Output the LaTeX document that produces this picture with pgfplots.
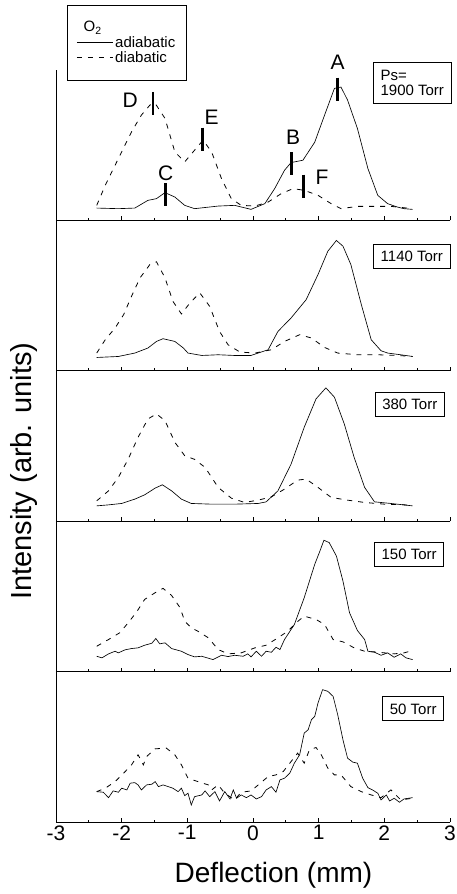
\documentclass[border=0pt]{standalone}
\usepackage{fontspec}
\setmainfont{Liberation Sans}
\usepackage{pgfplots}
\pgfplotsset{compat=1.18}
\pgfplotsset{
  panel/.style={
    width=394pt, height=150.4pt, scale only axis,
    xmin=-3, xmax=3, ymin=0, ymax=150,
    axis x line=bottom, axis y line=left,
    axis line style={-, line width=0.8pt},
    xtick={-3,-2,-1,0,1,2,3}, minor x tick num=1, tick align=inside,
    major tick length=4pt, minor tick length=2.5pt,
    ytick=\empty,
    clip=false,
    every tick/.style={line width=0.7pt, black},
    /pgf/number format/assume math mode=true,
    tick label style={font=\fontsize{21}{24}\selectfont},
    anchor=south west,
  },
  ad/.style={black, line width=0.65pt},
  di/.style={black, line width=0.8pt, dash pattern=on 5pt off 6pt},
}
\tikzset{
  labbase/.style={draw=black, line width=0.8pt, fill=white, inner xsep=7pt},
  lab/.style={labbase, inner ysep=6.5pt, text height=11pt, text depth=0pt},
  pk/.style={font=\fontsize{21}{24}\selectfont},
}
\begin{document}
\begin{tikzpicture}
\path[use as bounding box] (-56pt,70pt) rectangle (400pt,-824pt);
% ---------------- panel 1 ----------------
\begin{axis}[panel, at={(0pt,-150.4pt)}, xticklabels={},
  legend style={at={(axis description cs:0.028,1.433)}, anchor=north west,
    draw=black, line width=0.8pt, inner xsep=9pt, inner ysep=14pt, row sep=-1pt,
    font=\fontsize{15}{17}\selectfont, cells={anchor=west}},
  legend image code/.code={\draw[#1] (0pt,0pt) -- (36pt,0pt);}]
\addlegendimage{empty legend}
\addlegendentry{\hspace*{-42pt}O\textsubscript{2}}
\addplot[ad] coordinates {(-2.38,12.3)(-2.05,11.7)(-1.80,12.3)(-1.60,20)(-1.47,21.7)(-1.34,27.7)(-1.19,23.3)(-1.04,15)(-0.89,11.7)(-0.53,14.3)(-0.28,15)(-0.03,11)(0.18,16.7)(0.33,31.7)(0.48,50)(0.58,57.7)(0.76,60)(0.94,78)(1.09,105)(1.24,131.7)(1.34,133)(1.44,120)(1.59,91.7)(1.75,51.7)(1.90,25)(2.05,16.7)(2.20,13.3)(2.30,11.7)(2.43,11)};
\addlegendentry{adiabatic}
\addplot[di] coordinates {(-2.38,15)(-2.25,35)(-2.05,61.7)(-1.85,88.3)(-1.70,105)(-1.57,115)(-1.49,116.7)(-1.34,101.7)(-1.19,68.3)(-1.04,58.3)(-0.89,70)(-0.76,80)(-0.63,68.3)(-0.48,41.7)(-0.33,21.7)(-0.18,15)(0.03,14.3)(0.23,18.3)(0.43,26.7)(0.61,31.7)(0.78,30)(0.99,25)(1.19,16.7)(1.34,11.7)(1.59,14)(1.85,14)(2.10,14)(2.43,11.7)};
\addlegendentry{diabatic}
\addplot[only marks, mark=|, mark size=11.5pt, mark options={line width=2.5pt}, forget plot] coordinates {(1.29,131)(0.59,56.3)(-1.33,25.7)(-1.52,116.7)(-0.77,81)(0.77,34.3)};
\coordinate (pA) at (axis cs:1.29,158);
\coordinate (pB) at (axis cs:0.61,83.3);
\coordinate (pC) at (axis cs:-1.33,46.7);
\coordinate (pD) at (axis cs:-1.87,120);
\coordinate (pE) at (axis cs:-0.63,103);
\coordinate (pF) at (axis cs:1.05,43.3);
\coordinate (l1) at (axis cs:2.426,137);
\end{axis}
% ---------------- panel 2 ----------------
\begin{axis}[panel, at={(0pt,-300.8pt)}, xticklabels={}]
\addplot[ad] coordinates {(-2.38,13.3)(-2.05,14.3)(-1.80,17.7)(-1.60,22.7)(-1.47,29.3)(-1.37,32)(-1.19,29.3)(-1.06,22.7)(-0.99,17.7)(-0.78,15.3)(-0.53,16)(-0.28,15.3)(-0.03,15.3)(0.23,21)(0.38,39.3)(0.58,52.7)(0.81,71)(0.99,96)(1.14,119.3)(1.27,130)(1.37,124.3)(1.49,106)(1.65,66)(1.80,31)(1.95,20)(2.05,17.7)(2.25,16)(2.43,14.3)};
\addplot[di] coordinates {(-2.38,17.7)(-2.25,31)(-2.10,42.7)(-1.97,56)(-1.85,74.3)(-1.72,92.7)(-1.57,106)(-1.47,108.7)(-1.34,92.7)(-1.22,69.3)(-1.09,56.7)(-0.96,67.7)(-0.81,77.7)(-0.66,64.3)(-0.51,39.3)(-0.38,26)(-0.20,18.7)(0.03,17.7)(0.28,21)(0.48,29.3)(0.71,36)(0.89,32.7)(1.09,23.3)(1.29,17.7)(1.59,16)(1.90,16)(2.20,15.3)(2.43,14.3)};
\coordinate (l2) at (axis cs:2.419,114);
\end{axis}
% ---------------- panel 3 ----------------
\begin{axis}[panel, at={(0pt,-451.2pt)}, xticklabels={}]
\addplot[ad] coordinates {(-2.38,15.3)(-2.20,16.3)(-2.00,17.7)(-1.80,22)(-1.65,26.3)(-1.49,33)(-1.38,36.3)(-1.24,30.3)(-1.09,22)(-0.94,17.7)(-0.63,17)(-0.28,17)(0.08,17.7)(0.20,19.3)(0.38,30.3)(0.58,57)(0.78,93.7)(0.96,122)(1.11,133)(1.24,123.7)(1.39,97)(1.54,63.7)(1.70,33.7)(1.85,19.3)(2.10,17.7)(2.43,15.3)};
\addplot[di] coordinates {(-2.38,20.3)(-2.20,30.3)(-2.05,43.7)(-1.90,62)(-1.75,83.7)(-1.60,102)(-1.47,107)(-1.34,100.3)(-1.19,78.7)(-1.04,65.3)(-0.89,61.7)(-0.73,53.7)(-0.53,33.7)(-0.33,23)(-0.13,18.7)(0.08,21)(0.28,24.3)(0.48,32)(0.68,41)(0.81,42)(0.99,33.7)(1.19,23.7)(1.44,21)(1.70,18.7)(2.00,17)(2.43,16)};
\coordinate (l3) at (axis cs:2.388,116.5);
\end{axis}
% ---------------- panel 4 ----------------
\begin{axis}[panel, at={(0pt,-601.6pt)}, xticklabels={}]
\addplot[ad] coordinates {(-2.38,15.3)(-2.30,13.7)(-2.20,17.7)(-2.10,20.3)(-2.05,18.7)(-1.95,21.7)(-1.85,23)(-1.75,23.7)(-1.65,26.3)(-1.54,28.3)(-1.48,33)(-1.42,27.7)(-1.34,28.7)(-1.24,23)(-1.09,20.3)(-0.99,17)(-0.89,14.7)(-0.78,15.3)(-0.61,12)(-0.48,16.3)(-0.38,15)(-0.28,16.3)(-0.15,15.3)(-0.08,17.7)(-0.03,14.7)(0.05,20.3)(0.13,15.3)(0.20,20.3)(0.28,19.3)(0.35,24.3)(0.41,22)(0.48,32)(0.63,47)(0.78,73.7)(0.94,107)(1.01,118.7)(1.08,131)(1.16,128.7)(1.27,115.3)(1.37,90.3)(1.47,58.7)(1.59,41)(1.70,32)(1.75,20.3)(1.85,19.3)(1.95,16.3)(2.05,18.7)(2.15,14.3)(2.25,17.7)(2.33,13.7)(2.43,12)};
\addplot[di] coordinates {(-2.38,25.3)(-2.20,32)(-2.03,38.7)(-1.90,48.7)(-1.77,59.7)(-1.65,72)(-1.49,78.7)(-1.37,83)(-1.24,76)(-1.11,63.7)(-1.04,50.3)(-0.94,43.7)(-0.84,40.3)(-0.68,33.7)(-0.53,22)(-0.38,17.7)(-0.18,18.7)(0.03,23.7)(0.20,26.3)(0.38,33.7)(0.53,40.3)(0.68,50)(0.78,55.3)(0.96,52)(1.09,47)(1.22,32)(1.37,29.7)(1.54,23.7)(1.70,20.3)(1.85,19.7)(2.00,18.7)(2.15,17.7)(2.30,18.7)(2.43,21)};
\coordinate (l4) at (axis cs:2.378,117);
\end{axis}
% ---------------- panel 5 ----------------
\begin{axis}[panel, at={(0pt,-752pt)}]
\addplot[ad] coordinates {(-2.38,30.3)(-2.28,29.7)(-2.20,24.3)(-2.13,31)(-2.05,29.7)(-2.00,33.7)(-1.92,32)(-1.87,38.7)(-1.80,39.3)(-1.75,37)(-1.70,32)(-1.62,37)(-1.54,37.7)(-1.49,40.3)(-1.44,35.3)(-1.37,37)(-1.29,35.3)(-1.22,33.7)(-1.14,30.3)(-1.09,33.7)(-1.04,26.3)(-0.99,28.7)(-0.94,17)(-0.89,25.3)(-0.78,27)(-0.73,31)(-0.66,25.3)(-0.58,30.3)(-0.51,21)(-0.43,30.3)(-0.35,23)(-0.30,32)(-0.25,23.7)(-0.18,27)(-0.10,24.3)(-0.03,27)(0.05,23)(0.13,25.3)(0.20,32)(0.28,35.3)(0.35,29.7)(0.41,42)(0.48,43.7)(0.56,48.7)(0.63,58.7)(0.71,67)(0.78,88.7)(0.84,92)(0.89,102)(0.94,105.3)(0.99,118.7)(1.06,132)(1.14,130.3)(1.22,125.3)(1.29,107)(1.37,82)(1.44,63.7)(1.52,59.7)(1.59,58.7)(1.67,43.7)(1.75,34.3)(1.82,32)(1.90,28.7)(1.95,22)(2.03,27)(2.08,21)(2.15,23.7)(2.23,19.7)(2.30,23)(2.43,24.3)};
\addplot[di] coordinates {(-2.38,30.3)(-2.25,33.7)(-2.10,40.3)(-1.97,48.7)(-1.85,57)(-1.75,67)(-1.67,57)(-1.62,65.3)(-1.49,73)(-1.32,73.7)(-1.19,67)(-1.09,57)(-0.99,43.7)(-0.84,40.3)(-0.68,37)(-0.63,32)(-0.53,37)(-0.43,28.7)(-0.28,22)(-0.18,29.7)(-0.03,31)(0.08,37)(0.23,45.3)(0.35,47)(0.46,50.3)(0.58,60.3)(0.68,68.7)(0.78,58.7)(0.86,72)(0.96,74.3)(1.04,67)(1.14,53.7)(1.24,47)(1.34,47)(1.49,35.3)(1.65,30.3)(1.80,27)(1.95,24.3)(2.10,32)(2.25,22)(2.43,23.7)};
\coordinate (l5) at (axis cs:2.44,113);
\end{axis}
\node[pk] at (pA) {A};
\node[pk] at (pB) {B};
\node[pk] at (pC) {C};
\node[pk] at (pD) {D};
\node[pk] at (pE) {E};
\node[pk] at (pF) {F};
\node[labbase, align=left, inner ysep=8pt, font=\fontsize{15}{14.5}\selectfont] at (l1) {Ps=\\1900 Torr};
\node[lab, font=\fontsize{15}{17}\selectfont] at (l2) {1140 Torr};
\node[lab, font=\fontsize{15}{17}\selectfont] at (l3) {380 Torr};
\node[lab, font=\fontsize{15}{17}\selectfont] at (l4) {150 Torr};
\node[lab, font=\fontsize{15}{17}\selectfont] at (l5) {50 Torr};
\node[rotate=90, anchor=base, font=\fontsize{29}{33}\selectfont] at (-24pt,-401pt) {Intensity (arb. units)};
\node[anchor=base, font=\fontsize{28}{32}\selectfont] at (217.5pt,-812.7pt) {Deflection (mm)};
\end{tikzpicture}
\end{document}
